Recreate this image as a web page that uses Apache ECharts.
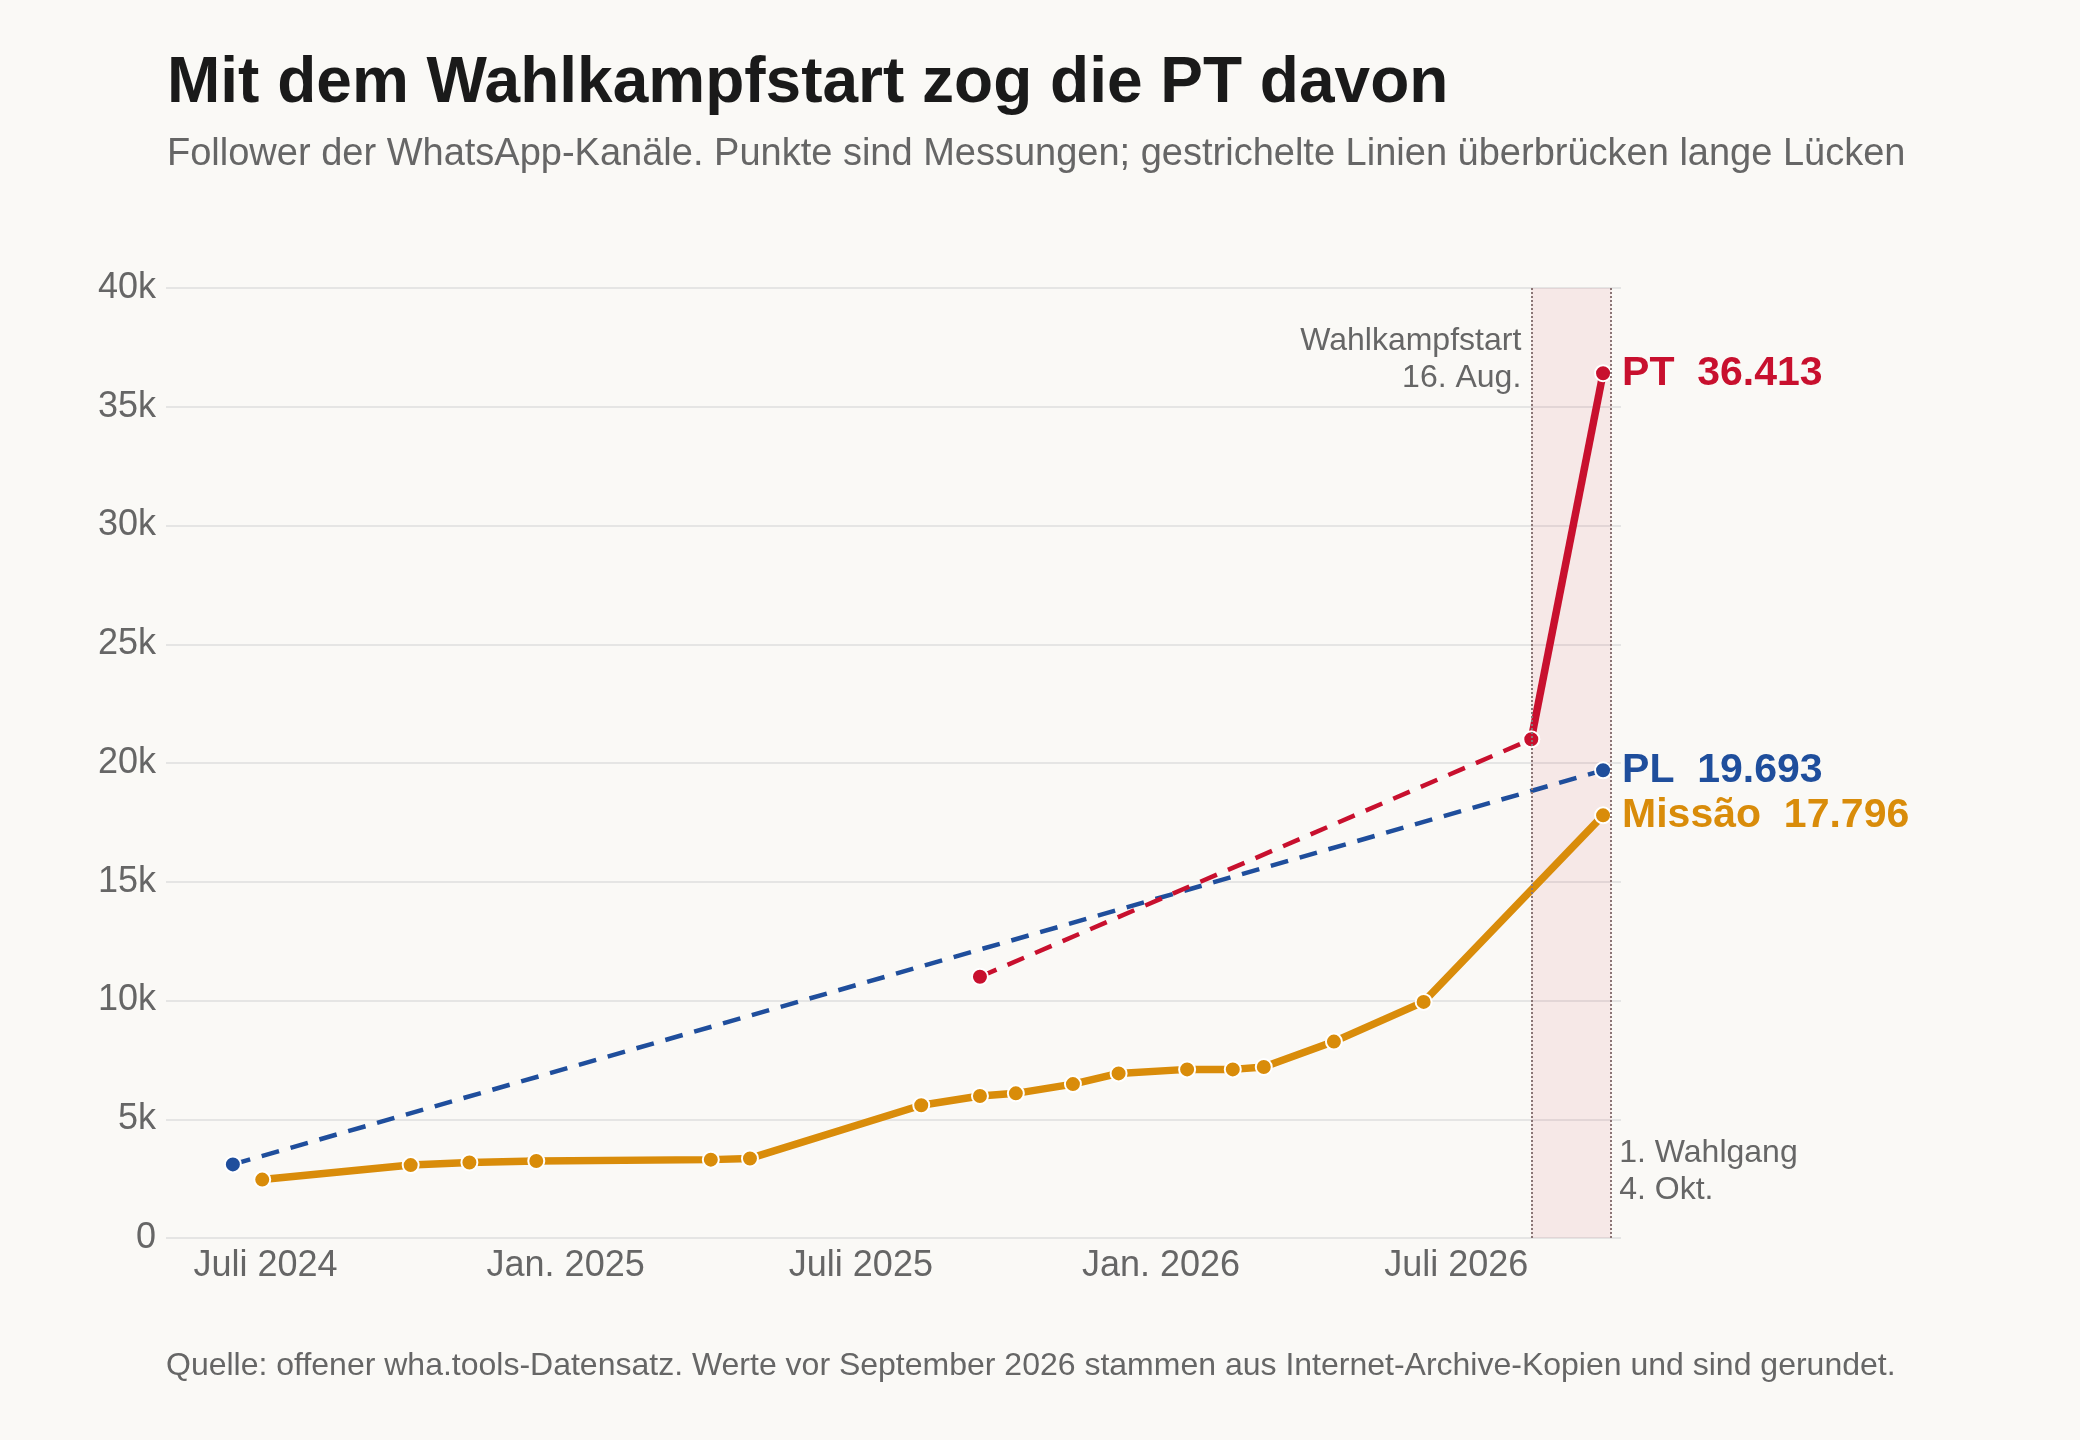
<!DOCTYPE html>
<html>
<head>
<meta charset="utf-8">
<script src="https://cdn.jsdelivr.net/npm/echarts@6/dist/echarts.min.js"></script>
<style>
  html, body { margin: 0; padding: 0; background: #faf9f6; }
  #chart { width: 2080px; height: 1440px; }
</style>
</head>
<body>
<div id="chart"></div>
<script>
// Messungen
var missaoDates = ['2024-06-29','2024-09-28','2024-11-03','2024-12-14','2025-03-31','2025-04-24','2025-08-07','2025-09-12','2025-10-04','2025-11-08','2025-12-06','2026-01-17','2026-02-14','2026-03-05','2026-04-17','2026-06-11','2026-09-29'];
var missaoValues = [2460, 3070, 3180, 3240, 3300, 3350, 5590, 5980, 6090, 6480, 6930, 7100, 7100, 7200, 8270, 9940, 17796];
var plDates = ['2024-06-11', '2026-09-29'];
var plValues = [3100, 19693];
var ptGapDates = ['2025-09-12', '2026-08-16'];
var ptGapValues = [11000, 21000];
var ptDates = ['2026-08-16', '2026-09-29'];
var ptValues = [21000, 36413];
var xTicks = ['2024-07-01', '2025-01-01', '2025-07-01', '2026-01-01', '2026-07-01'];
var xTickLabels = ['Juli 2024', 'Jan. 2025', 'Juli 2025', 'Jan. 2026', 'Juli 2026'];
var wahlkampfstart = '2026-08-16';
var wahlgang = '2026-10-04';

var RED = '#c8102e', BLUE = '#1f4e9c', ORANGE = '#d98c0a';
var FONT = 'Liberation Sans';

function ts(d) { return +new Date(d); }
function pairs(d, v) { return d.map(function (x, i) { return [ts(x), v[i]]; }); }
function lastLabel(data, name, color) {
    var last = data[data.length - 1];
    data[data.length - 1] = {
        value: last,
        label: { show: true, position: 'right', distance: 10, color: color,
                 fontFamily: FONT, fontWeight: 'bold', fontSize: 41,
                 formatter: name + '  ' + last[1].toLocaleString('de-DE') }
    };
    return data;
}

var tickTs = xTicks.map(ts);
var chart = echarts.init(document.getElementById('chart'));
var lineBase = { type: 'line', symbol: 'circle', symbolSize: 16, silent: true, z: 3 };

var option = {
    backgroundColor: '#faf9f6',
    animation: false,
    textStyle: { fontFamily: FONT },
    title: {
        text: 'Mit dem Wahlkampfstart zog die PT davon',
        subtext: 'Follower der WhatsApp-Kanäle. Punkte sind Messungen; gestrichelte Linien überbrücken lange Lücken',
        left: 162, top: 47, itemGap: 20,
        textStyle: { fontSize: 64, fontWeight: 'bold', color: '#1a1a1a', fontFamily: FONT },
        subtextStyle: { fontSize: 38, color: '#666', fontFamily: FONT }
    },
    grid: { left: 166, right: 459, top: 288, bottom: 202 },
    xAxis: {
        type: 'value',
        min: ts('2024-05-01'),
        max: ts('2026-10-10'),
        axisLine: { show: false },
        axisTick: { show: false },
        splitLine: { show: false },
        axisLabel: {
            customValues: tickTs,
            formatter: function (v) {
                var i = tickTs.indexOf(v);
                return i >= 0 ? xTickLabels[i] : '';
            },
            color: '#666', fontSize: 36, margin: 10, fontFamily: FONT
        }
    },
    yAxis: {
        type: 'value', min: 0, max: 40000, interval: 5000,
        axisLine: { show: false }, axisTick: { show: false },
        splitLine: { lineStyle: { color: '#dedede', width: 1.5 } },
        axisLabel: {
            color: '#666', fontSize: 36, margin: 10, fontFamily: FONT,
            formatter: function (v) { return v === 0 ? '0' : (v / 1000) + 'k'; }
        }
    },
    series: [
        Object.assign({}, lineBase, {
            name: 'PL', data: lastLabel(pairs(plDates, plValues), 'PL', BLUE),
            itemStyle: { color: BLUE, borderColor: '#fff', borderWidth: 2 },
            lineStyle: { color: BLUE, width: 4.5, type: [18, 12] },
            markArea: {
                silent: true,
                itemStyle: { color: 'rgba(200,16,46,0.07)' },
                data: [[{ xAxis: ts(wahlkampfstart) }, { xAxis: ts(wahlgang) }]]
            },
            markLine: {
                silent: true, symbol: 'none', label: { show: false },
                lineStyle: { color: '#8a7575', type: 'dotted', width: 2 },
                data: [{ xAxis: ts(wahlkampfstart) }, { xAxis: ts(wahlgang) }]
            }
        }),
        Object.assign({}, lineBase, {
            name: 'PT Lücke', data: pairs(ptGapDates, ptGapValues),
            itemStyle: { color: RED, borderColor: '#fff', borderWidth: 2 },
            lineStyle: { color: RED, width: 4.5, type: [18, 12] }
        }),
        Object.assign({}, lineBase, {
            name: 'Missão', data: lastLabel(pairs(missaoDates, missaoValues), 'Missão', ORANGE),
            itemStyle: { color: ORANGE, borderColor: '#fff', borderWidth: 2 },
            lineStyle: { color: ORANGE, width: 7.5 }
        }),
        Object.assign({}, lineBase, {
            name: 'PT', data: lastLabel(pairs(ptDates, ptValues), 'PT', RED),
            itemStyle: { color: RED, borderColor: '#fff', borderWidth: 2 },
            lineStyle: { color: RED, width: 7.5 }, z: 4
        })
    ]
};
chart.setOption(option);

var pStart = chart.convertToPixel({ gridIndex: 0 }, [ts(wahlkampfstart), 38500]);
var pVote = chart.convertToPixel({ gridIndex: 0 }, [ts(wahlgang), 3500]);
chart.setOption({
    graphic: [
        { type: 'text', x: pStart[0] - 10, y: pStart[1] - 1,
          style: { text: 'Wahlkampfstart\n16. Aug.', align: 'right', fill: '#666', fontSize: 32, lineHeight: 37, fontFamily: FONT } },
        { type: 'text', x: pVote[0] + 8, y: pVote[1] - 20,
          style: { text: '1. Wahlgang\n4. Okt.', align: 'left', fill: '#666', fontSize: 32, lineHeight: 37, fontFamily: FONT } },
        { type: 'text', x: 166, y: 1350,
          style: { text: 'Quelle: offener wha.tools-Datensatz. Werte vor September 2026 stammen aus Internet-Archive-Kopien und sind gerundet.', fill: '#666', fontSize: 32, fontFamily: FONT } }
    ]
});
</script>
</body>
</html>
